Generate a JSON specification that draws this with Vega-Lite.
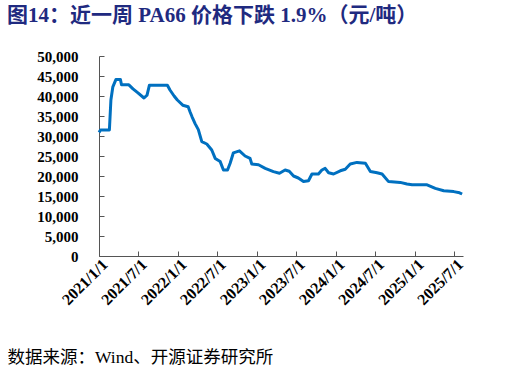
{
  "$schema": "https://vega.github.io/schema/vega-lite/v6.json",
  "autosize": "none",
  "width": 364,
  "height": 200,
  "padding": {"left": 99, "top": 56, "right": 59, "bottom": 117},
  "background": "white",
  "config": {"view": {"stroke": null}},
  "title": {
    "text": "图14：近一周 PA66 价格下跌 1.9%（元/吨）",
    "anchor": "start",
    "frame": "group",
    "dx": -92,
    "offset": 23,
    "font": "Liberation Serif, Noto Sans CJK SC",
    "fontSize": 21,
    "fontWeight": "bold",
    "color": "#1F2A80"
  },
  "data": {
    "values": [
      {"date": "2021-01-01", "price": 30900},
      {"date": "2021-01-08", "price": 31500},
      {"date": "2021-02-18", "price": 31500},
      {"date": "2021-02-25", "price": 39000},
      {"date": "2021-03-06", "price": 42300},
      {"date": "2021-03-20", "price": 44100},
      {"date": "2021-04-10", "price": 44100},
      {"date": "2021-04-15", "price": 42800},
      {"date": "2021-05-19", "price": 42800},
      {"date": "2021-06-07", "price": 41800},
      {"date": "2021-06-30", "price": 40800},
      {"date": "2021-07-28", "price": 39500},
      {"date": "2021-08-11", "price": 40200},
      {"date": "2021-08-22", "price": 42700},
      {"date": "2021-11-13", "price": 42700},
      {"date": "2021-11-25", "price": 41500},
      {"date": "2021-12-14", "price": 40000},
      {"date": "2021-12-29", "price": 39000},
      {"date": "2022-01-23", "price": 37700},
      {"date": "2022-02-17", "price": 37300},
      {"date": "2022-02-26", "price": 36000},
      {"date": "2022-03-07", "price": 34800},
      {"date": "2022-03-21", "price": 33100},
      {"date": "2022-04-05", "price": 31600},
      {"date": "2022-04-21", "price": 28600},
      {"date": "2022-05-14", "price": 28000},
      {"date": "2022-06-06", "price": 26500},
      {"date": "2022-06-22", "price": 24400},
      {"date": "2022-07-15", "price": 23600},
      {"date": "2022-07-30", "price": 21500},
      {"date": "2022-08-18", "price": 21500},
      {"date": "2022-08-30", "price": 23200},
      {"date": "2022-09-14", "price": 25800},
      {"date": "2022-10-12", "price": 26300},
      {"date": "2022-11-07", "price": 25000},
      {"date": "2022-11-30", "price": 24400},
      {"date": "2022-12-08", "price": 23000},
      {"date": "2023-01-08", "price": 22800},
      {"date": "2023-02-08", "price": 21900},
      {"date": "2023-03-18", "price": 21100},
      {"date": "2023-04-15", "price": 20700},
      {"date": "2023-05-11", "price": 21500},
      {"date": "2023-05-30", "price": 21200},
      {"date": "2023-06-19", "price": 20000},
      {"date": "2023-07-11", "price": 19500},
      {"date": "2023-08-04", "price": 18600},
      {"date": "2023-08-27", "price": 18800},
      {"date": "2023-09-12", "price": 20500},
      {"date": "2023-10-12", "price": 20500},
      {"date": "2023-10-28", "price": 21500},
      {"date": "2023-11-12", "price": 21900},
      {"date": "2023-11-28", "price": 20800},
      {"date": "2023-12-21", "price": 20500},
      {"date": "2024-01-21", "price": 21300},
      {"date": "2024-02-13", "price": 21700},
      {"date": "2024-03-07", "price": 23000},
      {"date": "2024-04-07", "price": 23400},
      {"date": "2024-05-16", "price": 23200},
      {"date": "2024-06-08", "price": 21100},
      {"date": "2024-07-09", "price": 20800},
      {"date": "2024-08-01", "price": 20500},
      {"date": "2024-08-31", "price": 18600},
      {"date": "2024-10-24", "price": 18400},
      {"date": "2024-11-24", "price": 18000},
      {"date": "2024-12-18", "price": 17800},
      {"date": "2025-02-25", "price": 17800},
      {"date": "2025-04-04", "price": 16900},
      {"date": "2025-05-13", "price": 16300},
      {"date": "2025-06-28", "price": 16100},
      {"date": "2025-07-25", "price": 15800},
      {"date": "2025-08-06", "price": 15500}
    ]
  },
  "mark": {"type": "line", "color": "#0070C0", "strokeWidth": 3, "strokeJoin": "round"},
  "encoding": {
    "x": {
      "field": "date",
      "type": "temporal",
      "scale": {"domain": [{"year": 2021, "month": 1, "date": 1}, {"year": 2025, "month": 8, "date": 10}]},
      "axis": {
        "values": [
          {"year": 2021, "month": 1, "date": 1}, {"year": 2021, "month": 7, "date": 1},
          {"year": 2022, "month": 1, "date": 1}, {"year": 2022, "month": 7, "date": 1},
          {"year": 2023, "month": 1, "date": 1}, {"year": 2023, "month": 7, "date": 1},
          {"year": 2024, "month": 1, "date": 1}, {"year": 2024, "month": 7, "date": 1},
          {"year": 2025, "month": 1, "date": 1}, {"year": 2025, "month": 7, "date": 1}
        ],
        "format": "%Y/%-m/%-d",
        "labelAngle": -45,
        "labelOverlap": false,
        "labelFont": "Liberation Serif",
        "labelFontWeight": "bold",
        "labelFontSize": 16,
        "labelColor": "black",
        "labelPadding": 5,
        "grid": false,
        "domainColor": "#555555",
        "tickColor": "#555555",
        "tickSize": -5,
        "title": "数据来源：Wind、开源证券研究所",
        "titleX": -92,
        "titleY": 101,
        "titleAlign": "left",
        "titleBaseline": "middle",
        "titleAngle": 0,
        "titleFont": "Liberation Serif, Noto Sans CJK SC",
        "titleFontSize": 17.5,
        "titleFontWeight": "normal",
        "titleColor": "black"
      }
    },
    "y": {
      "field": "price",
      "type": "quantitative",
      "scale": {"domain": [0, 50000], "nice": false},
      "axis": {
        "values": [0, 5000, 10000, 15000, 20000, 25000, 30000, 35000, 40000, 45000, 50000],
        "format": ",d",
        "labelOverlap": false,
        "labelFont": "Liberation Serif",
        "labelFontWeight": "bold",
        "labelFontSize": 15,
        "labelColor": "black",
        "labelPadding": 26,
        "grid": false,
        "domainColor": "#555555",
        "tickColor": "#555555",
        "tickSize": -5,
        "title": null
      }
    }
  }
}
